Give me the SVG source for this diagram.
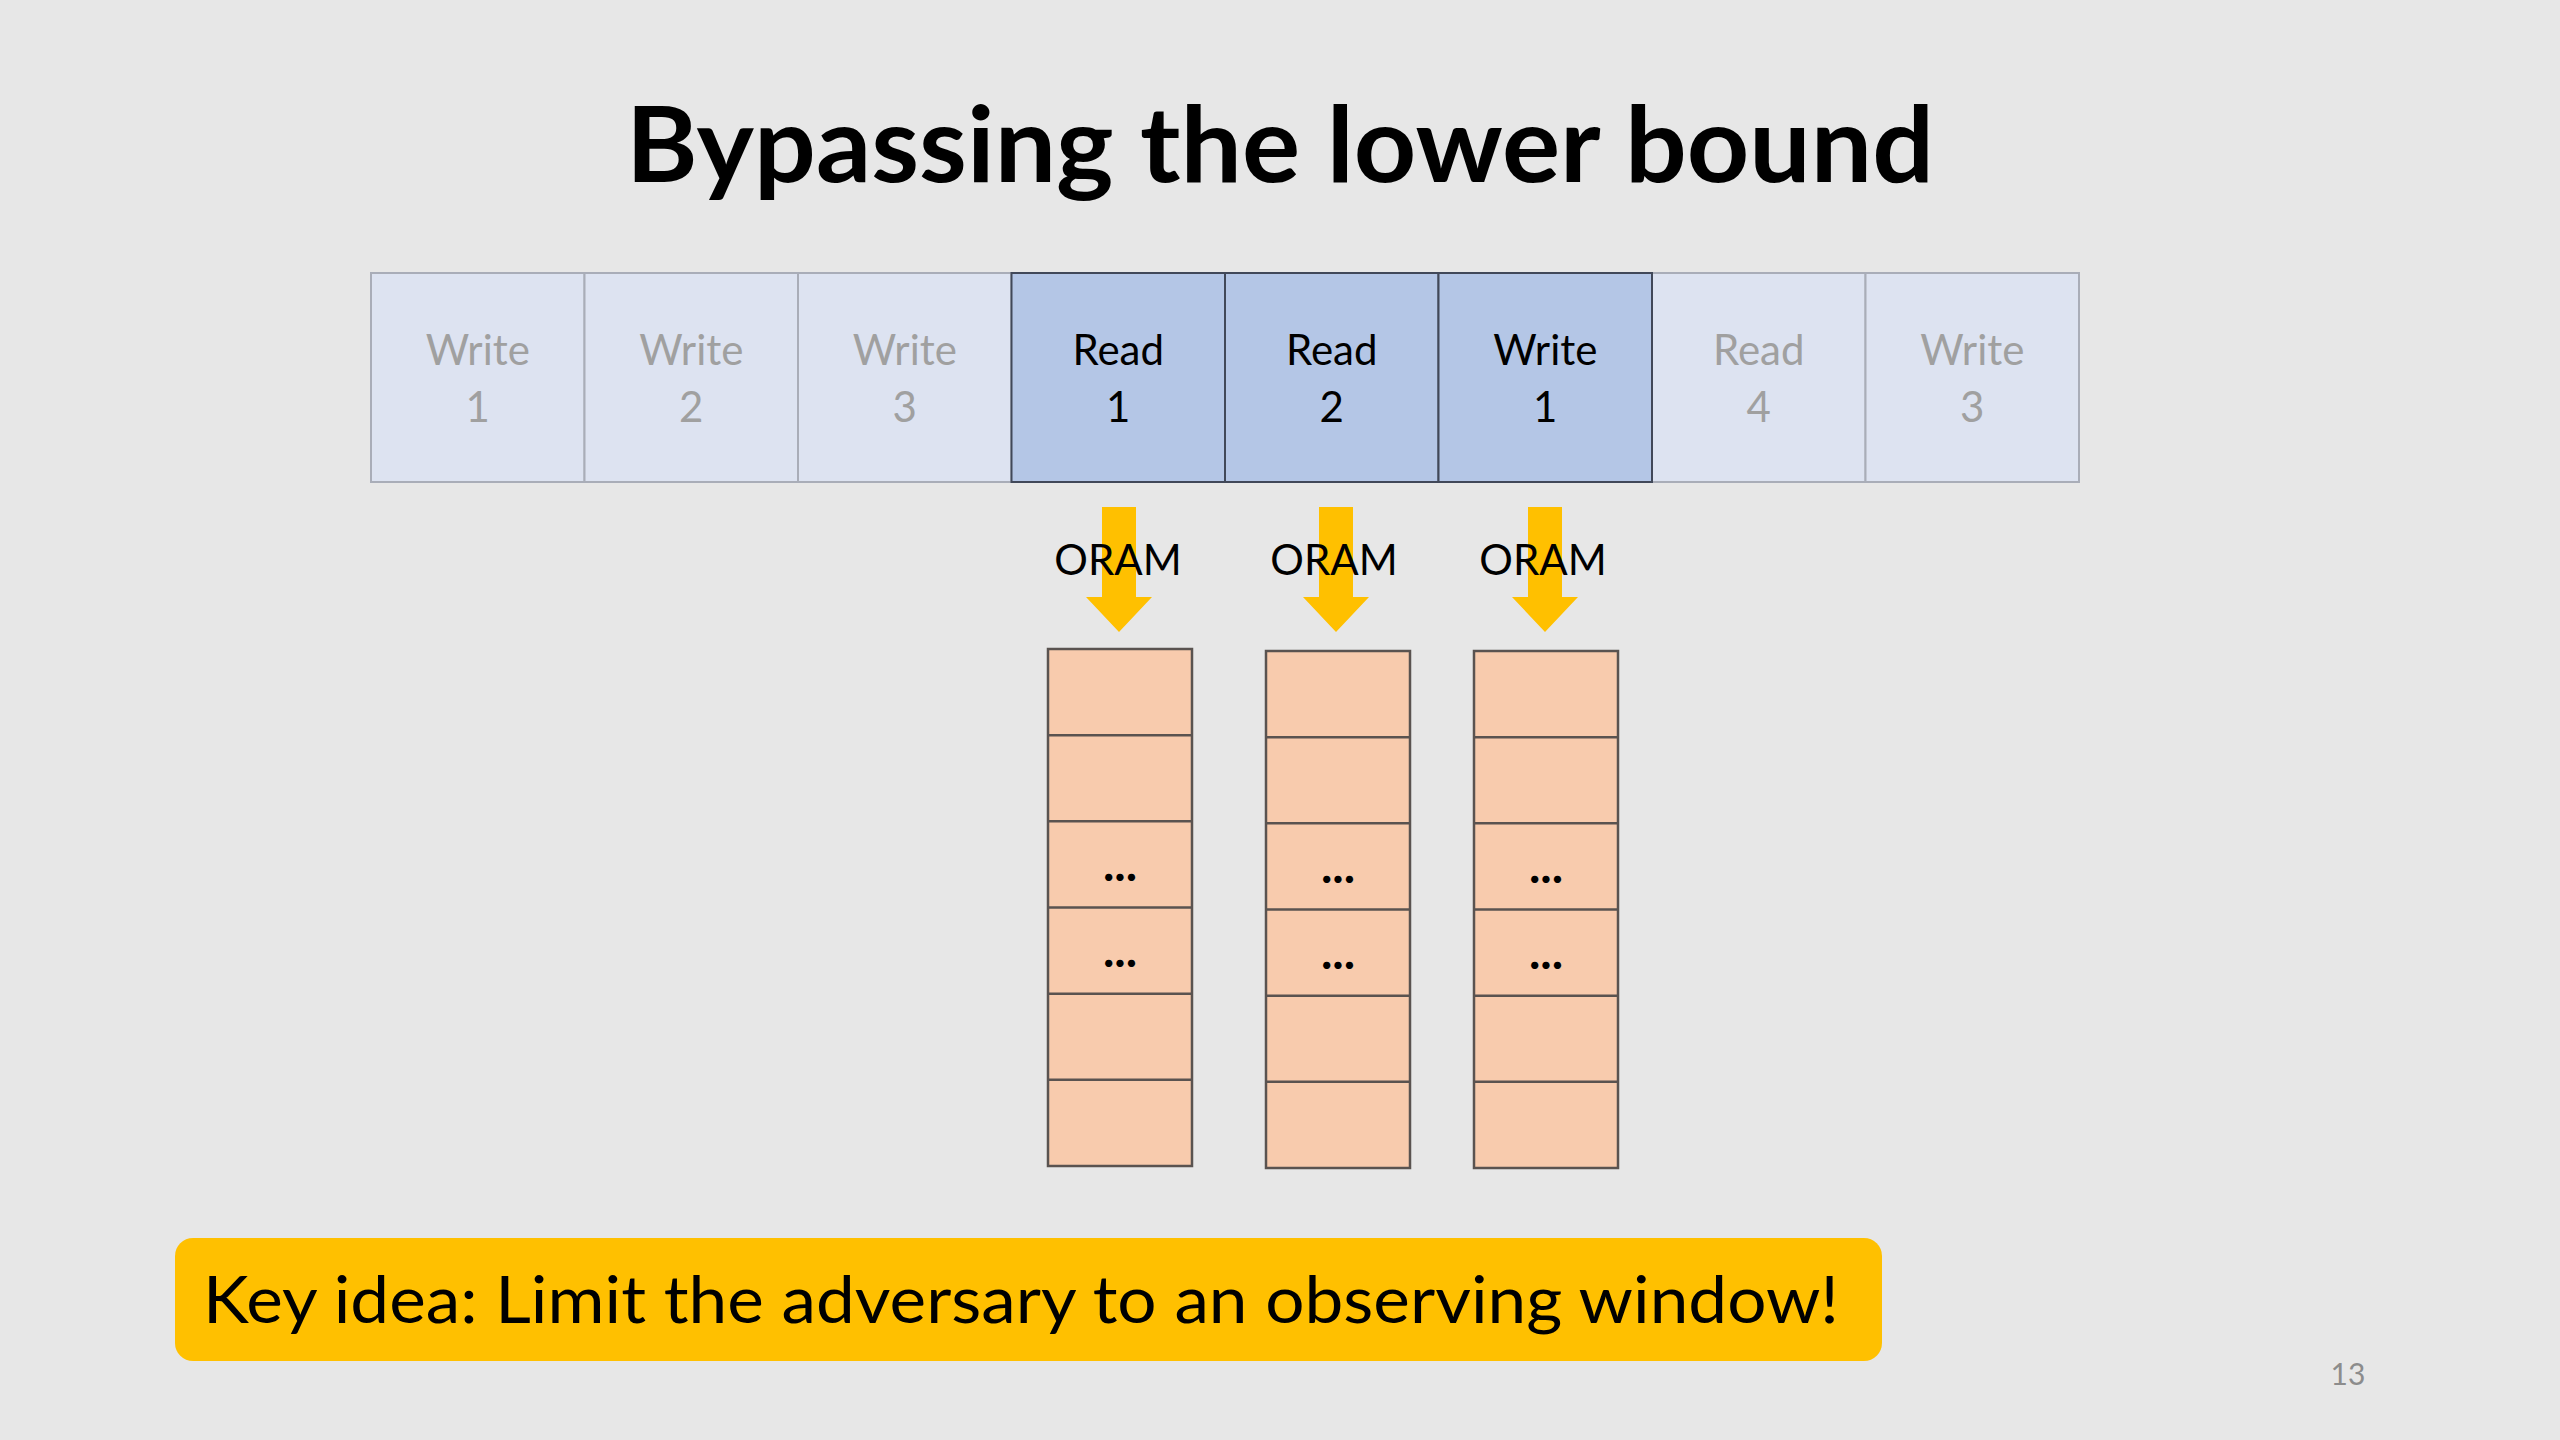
<svg xmlns="http://www.w3.org/2000/svg" width="2560" height="1440" viewBox="0 0 2560 1440">
<style>
.bg{fill:#e7e7e7}
.title{font-family:Lato,"Liberation Sans",sans-serif;font-weight:bold;font-size:106px;fill:#000;text-anchor:middle}
.cell-l{fill:#dde3f1;stroke:#a9adb8;stroke-width:2}
.cell-d{fill:#b4c6e6;stroke:#414859;stroke-width:2}
.t{font-family:Lato,"Liberation Sans",sans-serif;font-size:42px;text-anchor:middle}
.tl{fill:#a0a0a0}
.td{fill:#000}
.mem{fill:#f8cbad;stroke:#5a5350;stroke-width:2.5}
.row{stroke:#5a5350;stroke-width:2.5}
.dots{font-family:Lato,"Liberation Sans",sans-serif;font-size:48px;font-weight:bold;text-anchor:middle;fill:#000}
.arrow{fill:#ffc000}
.oram{font-family:Lato,"Liberation Sans",sans-serif;font-size:42px;text-anchor:middle;fill:#000}
.key{fill:#ffc000}
.keyt{font-family:Lato,"Liberation Sans",sans-serif;font-size:66px;fill:#000}
.pg{font-family:Lato,"Liberation Sans",sans-serif;font-size:30px;fill:#8c8c8c;text-anchor:middle}
</style>
<defs>
<polygon id="arr" class="arrow" points="-17,0 17,0 17,90 33,90 0,125 -33,90 -17,90"/>
<g id="col">
<rect class="mem" x="0" y="0" width="144" height="517"/>
<line class="row" x1="0" y1="86.2" x2="144" y2="86.2"/>
<line class="row" x1="0" y1="172.3" x2="144" y2="172.3"/>
<line class="row" x1="0" y1="258.5" x2="144" y2="258.5"/>
<line class="row" x1="0" y1="344.7" x2="144" y2="344.7"/>
<line class="row" x1="0" y1="430.8" x2="144" y2="430.8"/>
<text class="dots" x="72" y="232">...</text>
<text class="dots" x="72" y="318">...</text>
</g>
</defs>
<rect class="bg" x="0" y="0" width="2560" height="1440"/>
<text class="title" x="1280" y="182" textLength="1308" lengthAdjust="spacingAndGlyphs">Bypassing the lower bound</text>

<g id="seq">
<g id="c1"><rect class="cell-l" x="371" y="273" width="213.5" height="209"/><text class="t tl" x="477.75" y="365">Write</text><text class="t tl" x="477.75" y="422">1</text></g>
<g id="c2"><rect class="cell-l" x="584.5" y="273" width="213.5" height="209"/><text class="t tl" x="691.25" y="365">Write</text><text class="t tl" x="691.25" y="422">2</text></g>
<g id="c3"><rect class="cell-l" x="798" y="273" width="213.5" height="209"/><text class="t tl" x="904.75" y="365">Write</text><text class="t tl" x="904.75" y="422">3</text></g>
<g id="c7"><rect class="cell-l" x="1652" y="273" width="213.5" height="209"/><text class="t tl" x="1758.75" y="365">Read</text><text class="t tl" x="1758.75" y="422">4</text></g>
<g id="c8"><rect class="cell-l" x="1865.5" y="273" width="213.5" height="209"/><text class="t tl" x="1972.25" y="365">Write</text><text class="t tl" x="1972.25" y="422">3</text></g>
<g id="c4"><rect class="cell-d" x="1011.5" y="273" width="213.5" height="209"/><text class="t td" x="1118.25" y="365">Read</text><text class="t td" x="1118.25" y="422">1</text></g>
<g id="c5"><rect class="cell-d" x="1225" y="273" width="213.5" height="209"/><text class="t td" x="1331.75" y="365">Read</text><text class="t td" x="1331.75" y="422">2</text></g>
<g id="c6"><rect class="cell-d" x="1438.5" y="273" width="213.5" height="209"/><text class="t td" x="1545.25" y="365">Write</text><text class="t td" x="1545.25" y="422">1</text></g>
</g>

<g id="mem1"><use href="#col" x="1048" y="649"/></g>
<g id="mem2"><use href="#col" x="1266" y="651"/></g>
<g id="mem3"><use href="#col" x="1474" y="651"/></g>

<g id="connectors">
<use href="#arr" x="1119" y="507"/>
<use href="#arr" x="1336" y="507"/>
<use href="#arr" x="1545" y="507"/>
<text class="oram" x="1118" y="575">ORAM</text>
<text class="oram" x="1334" y="575">ORAM</text>
<text class="oram" x="1543" y="575">ORAM</text>
</g>

<g id="keyidea">
<rect class="key" x="175" y="1238" width="1707" height="123" rx="18" ry="18"/>
<text class="keyt" x="203" y="1323" textLength="1636" lengthAdjust="spacingAndGlyphs">Key idea: Limit the adversary to an observing window!</text>
</g>
<text class="pg" x="2348" y="1385">13</text>
</svg>
